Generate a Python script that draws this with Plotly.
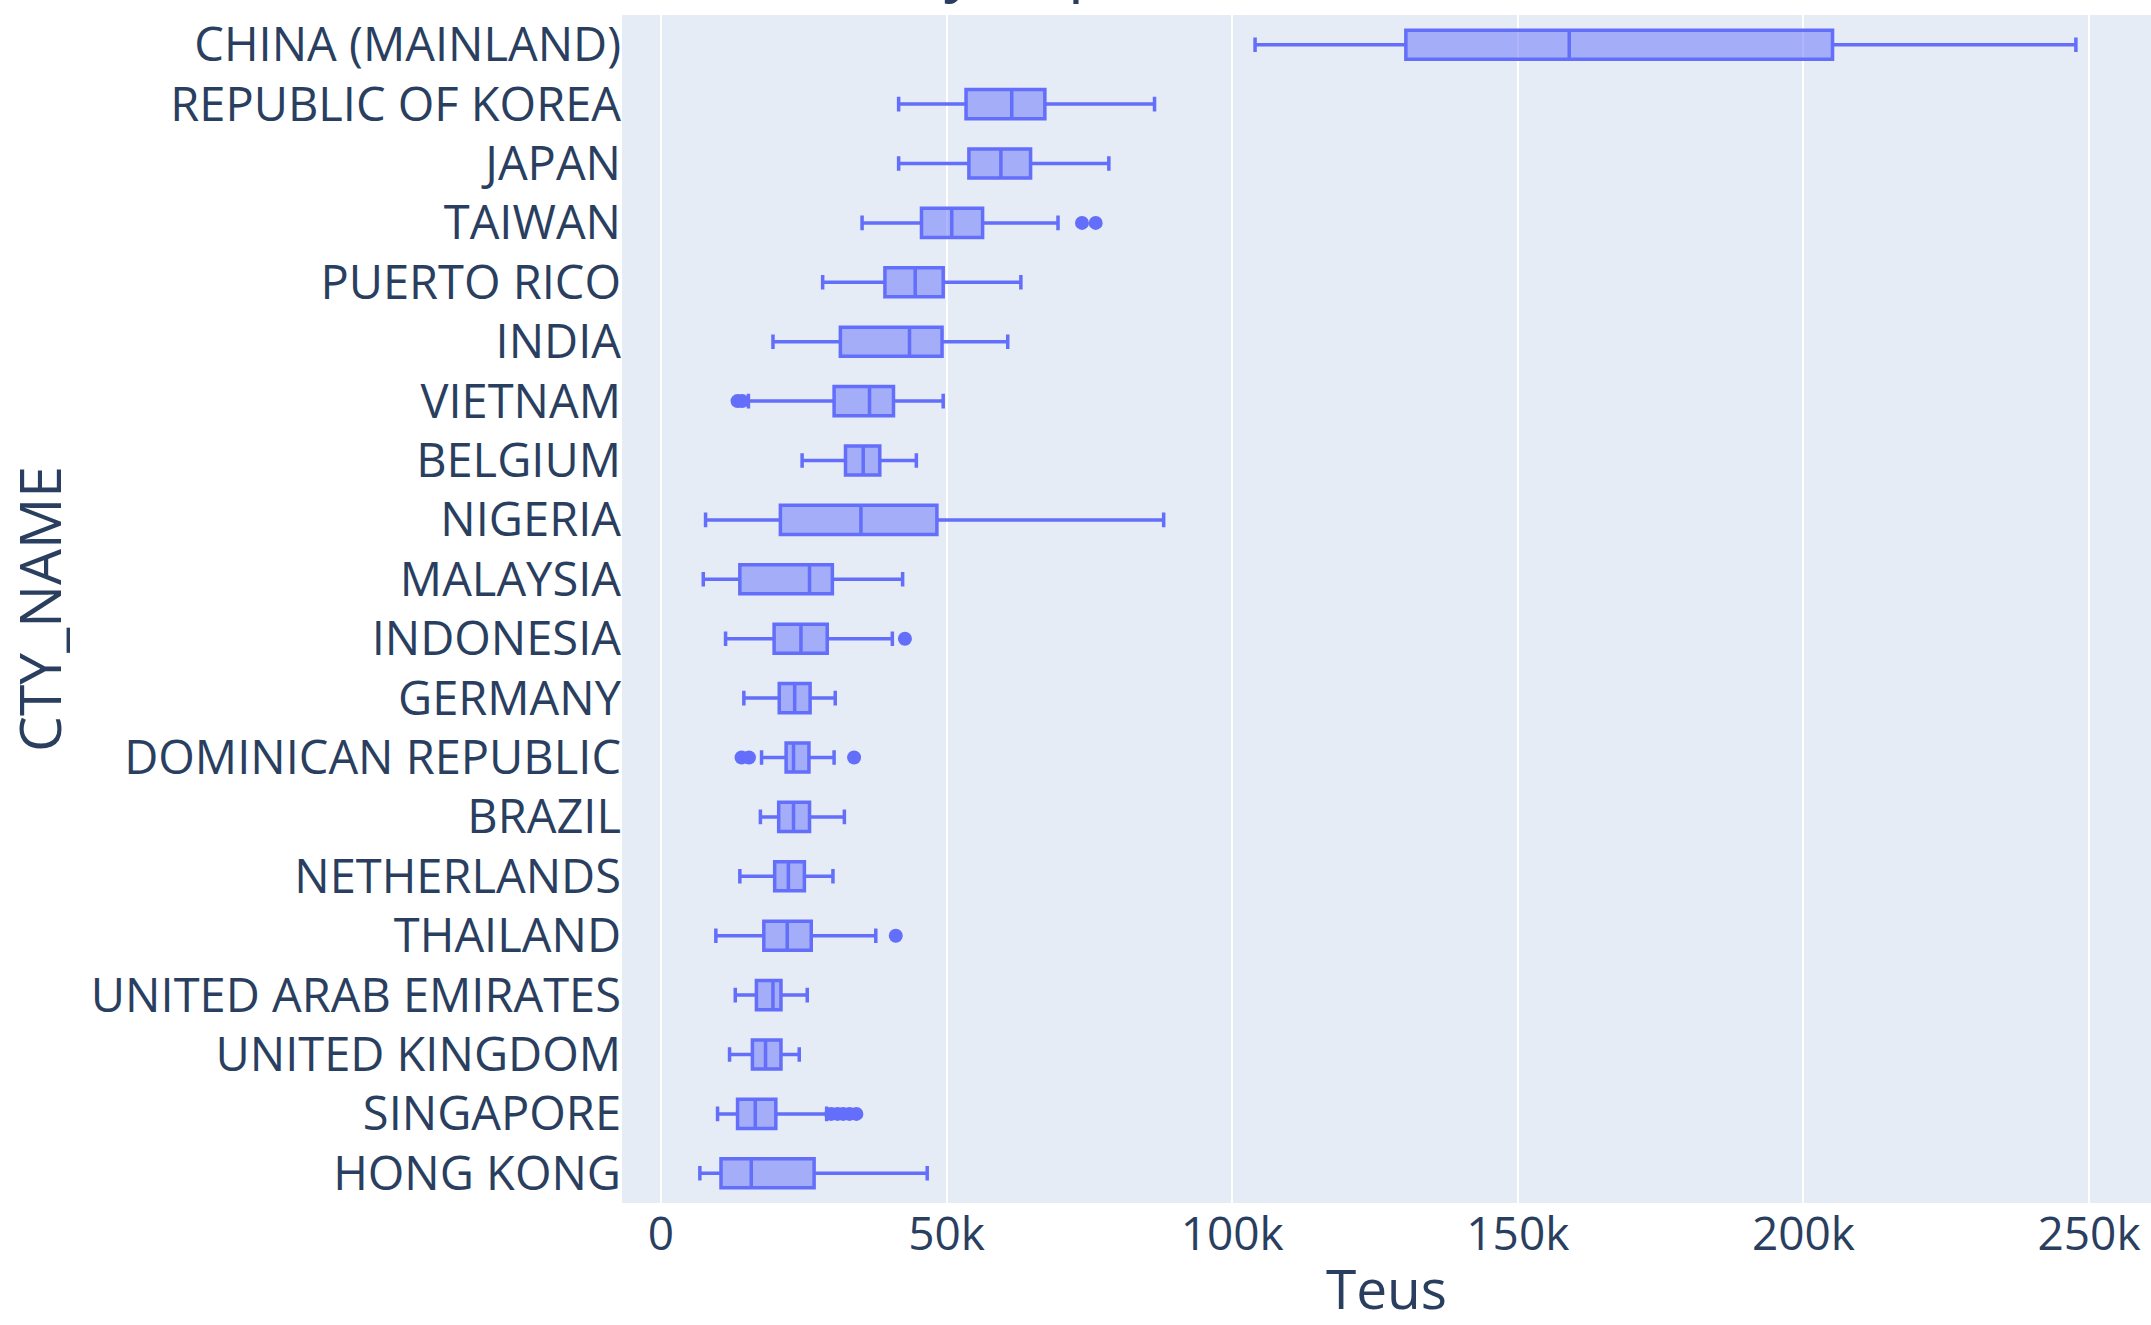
import plotly.graph_objects as go

# Countries, top to bottom as in the chart
countries = [
    "CHINA (MAINLAND)", "REPUBLIC OF KOREA", "JAPAN", "TAIWAN", "PUERTO RICO",
    "INDIA", "VIETNAM", "BELGIUM", "NIGERIA", "MALAYSIA", "INDONESIA",
    "GERMANY", "DOMINICAN REPUBLIC", "BRAZIL", "NETHERLANDS", "THAILAND",
    "UNITED ARAB EMIRATES", "UNITED KINGDOM", "SINGAPORE", "HONG KONG",
]

# Box statistics (Teus)
lower_fence = [104000, 41600, 41600, 35200, 28300, 19600, 15300, 24700, 7800, 7400,
               11300, 14500, 17600, 17400, 13800, 9600, 13000, 12000, 9900, 6800]
q1 = [130400, 53400, 53900, 45600, 39200, 31400, 30300, 32300, 20900, 13800,
      19800, 20700, 21900, 20600, 19900, 18000, 16700, 16000, 13400, 10500]
median = [159000, 61400, 59500, 50900, 44500, 43500, 36500, 35400, 35000, 26000,
          24500, 23400, 23200, 23200, 22300, 22100, 19600, 18300, 16500, 15800]
q3 = [205100, 67200, 64700, 56300, 49400, 49200, 40700, 38300, 48300, 30000,
      29100, 26100, 25900, 26000, 25100, 26300, 21000, 21000, 20100, 26800]
upper_fence = [247700, 86400, 78400, 69500, 63000, 60700, 49400, 44700, 88000, 42300,
               40500, 30500, 30300, 32100, 30100, 37600, 25600, 24200, 29000, 46600]

# Outlier points
outlier_country = ["TAIWAN", "TAIWAN", "VIETNAM", "VIETNAM", "INDONESIA",
                   "DOMINICAN REPUBLIC", "DOMINICAN REPUBLIC", "DOMINICAN REPUBLIC",
                   "THAILAND", "SINGAPORE", "SINGAPORE", "SINGAPORE", "SINGAPORE",
                   "SINGAPORE"]
outlier_teus = [73700, 76100, 13400, 14200, 42700,
                14100, 15400, 33800,
                41100, 29800, 30900, 31900, 33000, 34200]

color = "#636efa"

fig = go.Figure()
fig.add_trace(go.Box(
    y=countries,
    q1=q1, median=median, q3=q3,
    lowerfence=lower_fence, upperfence=upper_fence,
    orientation="h",
    marker_color=color,
    line=dict(color=color, width=3.5),
    boxpoints=False,
    name="",
    showlegend=False,
))
fig.add_trace(go.Scatter(
    x=outlier_teus, y=outlier_country,
    mode="markers",
    marker=dict(color=color, size=14),
    showlegend=False,
))

fig.update_layout(
    template="plotly",
    width=2151, height=1325,
    margin=dict(l=622, r=0, t=15, b=122, pad=0),
    font=dict(family="Open Sans", size=46, color="#2a3f5f"),
    boxmode="group",
    showlegend=False,
    title=dict(
        text="Monthly Imports",
        font=dict(size=63),
        x=734 / 2151, xanchor="left", xref="container",
        y=1, yanchor="bottom", yref="container",
        pad=dict(b=11),
    ),
)
fig.update_xaxes(
    title=dict(text="Teus", font=dict(size=55), standoff=33),
    automargin=False,
    range=[-6830, 260850],
    tickvals=[0, 50000, 100000, 150000, 200000, 250000],
    ticktext=["0", "50k", "100k", "150k", "200k", "250k"],
    gridwidth=2,
)
fig.update_yaxes(
    title=dict(text="CTY_NAME", font=dict(size=57)),
    tickfont=dict(size=47),
    categoryorder="array", categoryarray=countries,
    autorange="reversed",
)

fig.write_html("out.html")
